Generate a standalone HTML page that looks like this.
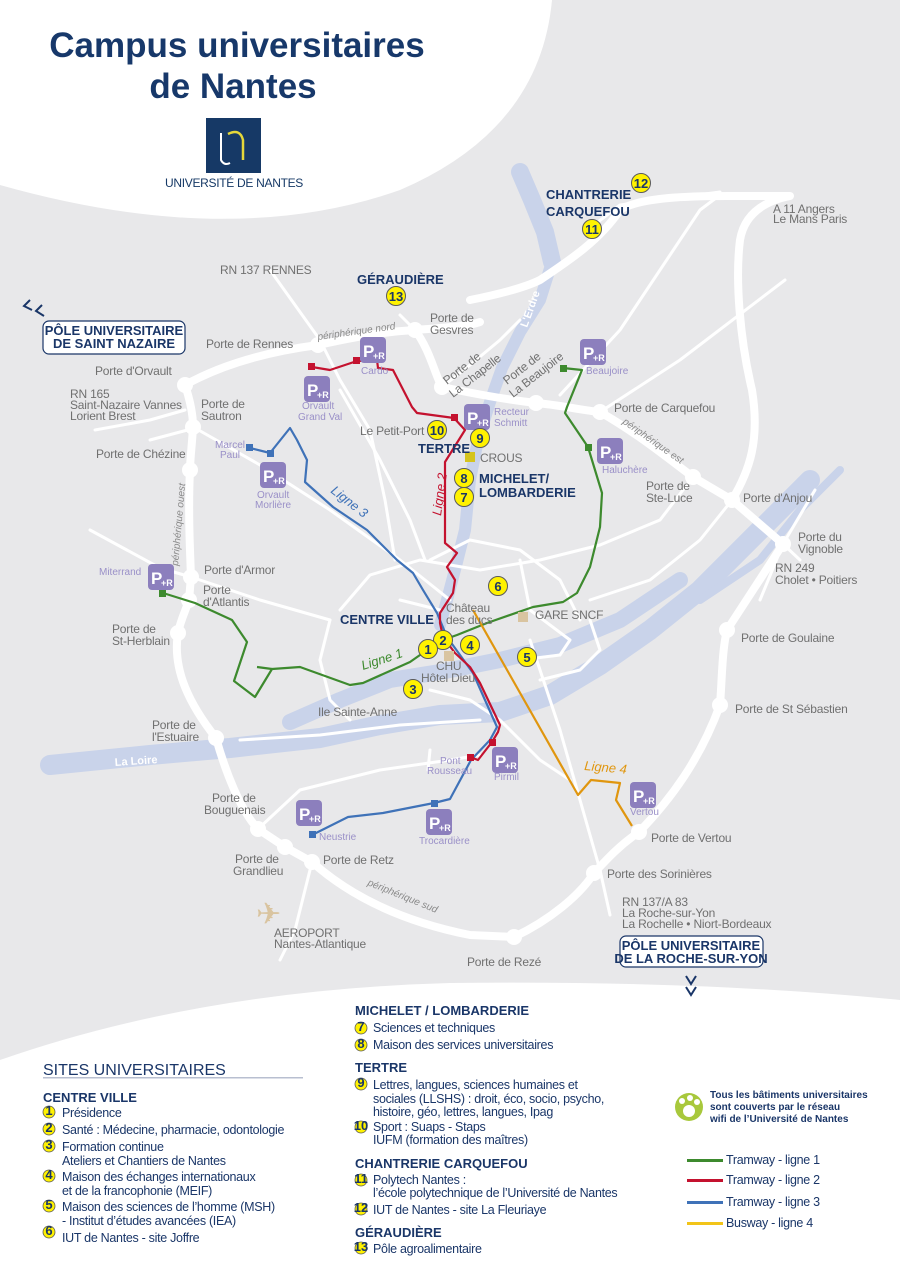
<!DOCTYPE html>
<html><head><meta charset="utf-8"><style>
html,body{margin:0;padding:0;background:#e8e8ea}
svg{display:block}
.t{font-family:"Liberation Sans Narrow","Liberation Sans",sans-serif;fill:#707070;font-size:12px;letter-spacing:-0.2px}
.p{font-family:"Liberation Sans",sans-serif;fill:#9a90c8;font-size:10px}
.h{font-family:"Liberation Sans",sans-serif;fill:#1a3668;font-weight:bold;font-size:13px}
.l{font-family:"Liberation Sans Narrow","Liberation Sans",sans-serif;fill:#1a3668;font-size:12.5px;letter-spacing:-0.3px}
.n{font-family:"Liberation Sans",sans-serif;fill:#1a3668;font-weight:bold;font-size:13px;text-anchor:middle}
.r{fill:none;stroke:#fff;stroke-linecap:round;stroke-linejoin:round}
</style></head><body>
<svg width="900" height="1273" viewBox="0 0 900 1273" xmlns="http://www.w3.org/2000/svg">
<defs>
<g id="pr"><rect x="0" y="0" width="26" height="26" rx="4" fill="#8c7fbd"/><text x="3" y="20" font-family="Liberation Sans,sans-serif" font-weight="bold" font-size="17" fill="#fff">P</text><text x="13" y="22" font-family="Liberation Sans,sans-serif" font-weight="bold" font-size="9" fill="#fff">+R</text></g>
</defs>
<rect width="900" height="1273" fill="#e8e8ea"/>
<g fill="none" stroke="#c9d3ea" stroke-linecap="round" stroke-linejoin="round">
<polyline stroke-width="20" points="50,765 150,755 230,748 320,738 380,725 440,715 500,712 550,695 600,665 650,630 700,590 760,530 810,480"/>
<polyline stroke-width="16" points="290,722 340,700 390,680 440,672 500,660 560,645 620,620 680,580"/>
<polyline stroke-width="18" points="520,172 532,200 545,232 552,262"/>
<polyline stroke-width="12" points="552,262 540,300 520,332 502,368 490,402 478,440 470,480 465,530 457,562 447,600 440,625"/>
<polyline stroke-width="8" points="700,600 760,560 800,510 840,470"/>
</g>
<g class="r" stroke-width="3">
<polyline points="270,270 320,340 340,380 370,430 385,500 395,560"/>
<polyline points="95,430 150,420 185,410"/>
<polyline points="150,440 195,428 260,465 330,510 400,560 450,600"/>
<polyline points="90,530 160,568 191,577 260,600 330,620"/>
<polyline points="340,390 380,460 410,520 425,560"/>
<polyline points="600,412 680,360 785,280"/>
<polyline points="594,225 620,205 690,196 720,192"/>
<polyline points="560,395 620,330 700,210 720,195"/>
<polyline points="693,477 660,520 600,545 540,560 480,570 420,560 370,575 340,610"/>
<polyline points="732,500 700,540 650,580 590,600"/>
<polyline points="330,620 320,660 330,700 350,720"/>
<polyline points="430,560 470,540 520,550 560,580 580,620"/>
<polyline points="400,600 440,610"/>
<polyline points="520,560 530,610 570,640 560,655 520,660"/>
<polyline points="590,620 600,650 580,670 540,680"/>
<polyline points="240,740 320,735 400,725 480,720"/>
<polyline points="258,829 300,790 380,770 450,760 480,755"/>
<polyline points="430,690 470,700 500,720 540,760 570,780"/>
<polyline points="530,640 560,730 600,870 610,915"/>
<polyline points="430,750 428,770"/>
<polyline points="312,862 295,930 280,960"/>
<polyline points="783,544 815,490"/>
<polyline points="783,544 800,560"/>
<polyline points="783,544 760,600"/>
<polyline points="442,387 470,365 500,340 520,320"/>
<polyline points="415,330 400,315"/>
</g>
<g class="r" stroke-width="8">
<path d="M185,385 C230,360 280,350 318,345 C350,338 380,332 415,330 C440,328 470,326 480,322"/>
<path d="M415,330 C430,350 435,375 442,387 C480,395 510,400 536,403 C560,405 580,410 600,412 C640,435 670,460 693,477 L732,500 L783,544"/>
<path d="M732,500 C750,470 760,440 752,390 C740,340 735,280 740,240 C745,210 770,200 790,196 L730,196 C690,196 640,197 620,210 C600,240 570,260 540,280 C520,290 480,298 470,300"/>
<path d="M185,385 C190,400 193,415 193,427 C192,445 190,460 190,470 C188,510 190,550 191,577 L189,600 C185,612 180,622 178,633 C172,670 190,705 216,738 C225,770 240,810 258,829 L285,847 L312,862 C360,905 420,925 470,935 L514,937 C550,920 580,895 594,873 C608,858 620,845 639,832 C670,800 700,760 720,705 C722,680 722,650 727,630 L783,544"/>
</g>
<g fill="#fff">
<circle cx="318" cy="345" r="8"/><circle cx="415" cy="330" r="8"/><circle cx="442" cy="387" r="8"/><circle cx="536" cy="403" r="8"/><circle cx="600" cy="412" r="8"/><circle cx="693" cy="477" r="8"/><circle cx="732" cy="500" r="8"/><circle cx="783" cy="544" r="8"/><circle cx="727" cy="630" r="8"/><circle cx="720" cy="705" r="8"/><circle cx="639" cy="832" r="8"/><circle cx="594" cy="873" r="8"/><circle cx="514" cy="937" r="8"/><circle cx="312" cy="862" r="8"/><circle cx="285" cy="847" r="8"/><circle cx="258" cy="829" r="8"/><circle cx="216" cy="738" r="8"/><circle cx="178" cy="633" r="8"/><circle cx="189" cy="600" r="8"/><circle cx="191" cy="577" r="8"/><circle cx="190" cy="470" r="8"/><circle cx="193" cy="427" r="8"/><circle cx="185" cy="385" r="8"/>
</g>
<path d="M0,0 L0,185 Q 230,250 400,190 Q 540,130 552,0 Z" fill="#fff"/>
<path d="M0,1060 Q 200,990 450,983 Q 700,980 900,1000 L900,1273 L0,1273 Z" fill="#fff"/>
<text x="237" y="57" text-anchor="middle" font-family="Liberation Sans,sans-serif" font-weight="bold" font-size="35" fill="#17386a">Campus universitaires</text>
<text x="233" y="98" text-anchor="middle" font-family="Liberation Sans,sans-serif" font-weight="bold" font-size="35" fill="#17386a">de Nantes</text>
<rect x="206" y="118" width="55" height="55" fill="#163966"/>
<path d="M221,133 L221,160 Q224,166 230,163" fill="none" stroke="#fff" stroke-width="2"/>
<path d="M228,134 Q240,128 243,140 L243,160" fill="none" stroke="#e5d83a" stroke-width="2.5"/>
<text x="234" y="187" text-anchor="middle" font-family="Liberation Sans Narrow,Liberation Sans,sans-serif" font-size="12" fill="#163966" letter-spacing="-0.3">UNIVERSITÉ DE NANTES</text>
<g fill="none" stroke-width="2.2" stroke-linejoin="round">
<polyline stroke="#3d8a2e" points="163,593 195,603 232,620 247,642 234,681 255,697 272,669 300,667 350,685 363,683 410,662 420,655 443,640 457,635 487,623 533,607 563,602 577,593 590,567 600,527 602,493 588,447 565,413 567,407 582,370 563,368"/>
<polyline stroke="#3d8a2e" points="257,667 272,669"/>
<polyline stroke="#3f72b8" points="250,448 270,453 290,428 297,440 307,460 305,482 333,507 367,530 380,543 397,560 413,573 423,590 437,613 447,637 473,673 497,727 490,740 471,760 450,799 434,803 383,813 348,817 312,835"/>
<polyline stroke="#c4122f" points="312,367 330,370 357,361 377,360 378,368 393,370 412,407 417,413 454,418 465,430 445,462 445,543 457,553 447,567 455,580 453,593 440,613 440,623 443,637 455,653 470,667 480,683 500,725 498,732 492,742 478,760 470,757"/>
<polyline stroke="#e0960f" points="473,610 578,795 591,780 620,783 616,800 632,826"/>
</g>
<g><rect x="308" y="363" width="7" height="7" fill="#c4122f"/><rect x="353" y="357" width="7" height="7" fill="#c4122f"/><rect x="451" y="414" width="7" height="7" fill="#c4122f"/><rect x="489" y="739" width="7" height="7" fill="#c4122f"/><rect x="467" y="754" width="7" height="7" fill="#c4122f"/>
<rect x="246" y="444" width="7" height="7" fill="#3f72b8"/><rect x="267" y="450" width="7" height="7" fill="#3f72b8"/><rect x="431" y="800" width="7" height="7" fill="#3f72b8"/><rect x="309" y="831" width="7" height="7" fill="#3f72b8"/>
<rect x="159" y="590" width="7" height="7" fill="#3d8a2e"/><rect x="560" y="365" width="7" height="7" fill="#3d8a2e"/><rect x="585" y="444" width="7" height="7" fill="#3d8a2e"/></g>
<use href="#pr" x="360" y="337"/><use href="#pr" x="304" y="376"/><use href="#pr" x="464" y="404"/><use href="#pr" x="580" y="339"/><use href="#pr" x="597" y="438"/><use href="#pr" x="260" y="462"/><use href="#pr" x="148" y="564"/><use href="#pr" x="492" y="747"/><use href="#pr" x="630" y="782"/><use href="#pr" x="296" y="800"/><use href="#pr" x="426" y="809"/>
<text class="p" x="361" y="374">Cardo</text>
<text class="p" x="302" y="409">Orvault</text><text class="p" x="298" y="420">Grand Val</text>
<text class="p" x="494" y="415">Recteur</text><text class="p" x="494" y="426">Schmitt</text>
<text class="p" x="586" y="374">Beaujoire</text>
<text class="p" x="602" y="473">Haluchère</text>
<text class="p" x="215" y="448">Marcel</text><text class="p" x="220" y="458">Paul</text>
<text class="p" x="257" y="498">Orvault</text><text class="p" x="255" y="508">Morlière</text>
<text class="p" x="99" y="575">Miterrand</text>
<text class="p" x="440" y="764">Pont</text><text class="p" x="427" y="774">Rousseau</text>
<text class="p" x="494" y="780">Pirmil</text>
<text class="p" x="630" y="815">Vertou</text>
<text class="p" x="319" y="840">Neustrie</text>
<text class="p" x="419" y="844">Trocardière</text>
<g class="t">
<text x="220" y="274">RN 137 RENNES</text>
<text x="206" y="348">Porte de Rennes</text>
<text x="95" y="375">Porte d'Orvault</text>
<text x="70" y="398">RN 165</text><text x="70" y="409">Saint-Nazaire Vannes</text><text x="70" y="420">Lorient Brest</text>
<text x="201" y="408">Porte de</text><text x="201" y="420">Sautron</text>
<text x="96" y="458">Porte de Chézine</text>
<text x="204" y="574">Porte d'Armor</text>
<text x="203" y="594">Porte</text><text x="203" y="606">d'Atlantis</text>
<text x="112" y="633">Porte de</text><text x="112" y="645">St-Herblain</text>
<text x="152" y="729">Porte de</text><text x="152" y="741">l'Estuaire</text>
<text x="212" y="802">Porte de</text><text x="204" y="814">Bouguenais</text>
<text x="235" y="863">Porte de</text><text x="233" y="875">Grandlieu</text>
<text x="323" y="864">Porte de Retz</text>
<text x="274" y="937">AEROPORT</text><text x="274" y="948">Nantes-Atlantique</text>
<text x="467" y="966">Porte de Rezé</text>
<text x="607" y="878">Porte des Sorinières</text>
<text x="622" y="906">RN 137/A 83</text><text x="622" y="917">La Roche-sur-Yon</text><text x="622" y="928">La Rochelle • Niort-Bordeaux</text>
<text x="651" y="842">Porte de Vertou</text>
<text x="735" y="713">Porte de St Sébastien</text>
<text x="741" y="642">Porte de Goulaine</text>
<text x="775" y="572">RN 249</text><text x="775" y="584">Cholet • Poitiers</text>
<text x="798" y="541">Porte du</text><text x="798" y="553">Vignoble</text>
<text x="743" y="502">Porte d'Anjou</text>
<text x="646" y="490">Porte de</text><text x="646" y="502">Ste-Luce</text>
<text x="614" y="412">Porte de Carquefou</text>
<text x="773" y="213">A 11 Angers</text><text x="773" y="223">Le Mans Paris</text>
<text x="430" y="322">Porte de</text><text x="430" y="334">Gesvres</text>
<text x="360" y="435">Le Petit-Port</text>
<text x="480" y="462">CROUS</text>
<text x="535" y="619">GARE SNCF</text>
<text x="446" y="612">Château</text><text x="446" y="624">des ducs</text>
<text x="436" y="670">CHU</text><text x="421" y="682">Hôtel Dieu</text>
<text x="318" y="716">Ile Sainte-Anne</text>
<text x="0" y="0" transform="translate(447,385) rotate(-38)">Porte de</text><text x="0" y="0" transform="translate(453,398) rotate(-38)">La Chapelle</text>
<text x="0" y="0" transform="translate(507,385) rotate(-38)">Porte de</text><text x="0" y="0" transform="translate(513,398) rotate(-38)">La Beaujoire</text>
</g>
<g font-family="Liberation Sans,sans-serif" font-style="italic" font-size="10" fill="#8a8a8a">
<text transform="translate(318,340) rotate(-8)">périphérique nord</text>
<text transform="translate(622,423) rotate(35)">périphérique est</text>
<text transform="translate(178,566) rotate(-85)">périphérique ouest</text>
<text transform="translate(367,885) rotate(22)">périphérique sud</text>
</g>
<text transform="translate(527,328) rotate(-70)" font-family="Liberation Sans,sans-serif" font-size="11" fill="#fff" font-weight="bold">L'Erdre</text>
<text x="115" y="766" font-family="Liberation Sans,sans-serif" font-size="11" fill="#fff" font-weight="bold" transform="rotate(-4 115 766)">La Loire</text>
<g font-family="Liberation Sans,sans-serif" font-style="italic" font-size="13">
<text fill="#3d8a2e" transform="translate(363,670) rotate(-18)">Ligne 1</text>
<text fill="#c4122f" transform="translate(441,516) rotate(-82)">Ligne 2</text>
<text fill="#3f72b8" transform="translate(330,492) rotate(38)">Ligne 3</text>
<text fill="#e0960f" transform="translate(584,770) rotate(5)">Ligne 4</text>
</g>
<rect x="465" y="452" width="10" height="10" fill="#d5c41e"/>
<rect x="518" y="612" width="10" height="10" fill="#d9c4a0"/>
<rect x="444" y="651" width="10" height="10" fill="#d9c4a0"/>
<text x="256" y="924" font-size="30" fill="#d9c4a0" font-family="DejaVu Sans,sans-serif">✈</text>
<g class="h">
<text x="546" y="199">CHANTRERIE</text><text x="546" y="216">CARQUEFOU</text>
<text x="357" y="284">GÉRAUDIÈRE</text>
<text x="418" y="453">TERTRE</text>
<text x="479" y="483">MICHELET/</text><text x="479" y="497">LOMBARDERIE</text>
<text x="340" y="624">CENTRE VILLE</text>
</g>
<g fill="#fff200" stroke="#5a5a5a" stroke-width="1">
<circle cx="641" cy="183" r="9.5"/><circle cx="592" cy="229" r="9.5"/><circle cx="396" cy="296" r="9.5"/><circle cx="437" cy="430" r="9.5"/><circle cx="480" cy="438" r="9.5"/><circle cx="464" cy="478" r="9.5"/><circle cx="464" cy="497" r="9.5"/><circle cx="498" cy="586" r="9.5"/><circle cx="470" cy="645" r="9.5"/><circle cx="443" cy="640" r="9.5"/><circle cx="428" cy="649" r="9.5"/><circle cx="527" cy="657" r="9.5"/><circle cx="413" cy="689" r="9.5"/>
</g>
<g class="n">
<text x="641" y="188">12</text><text x="592" y="234">11</text><text x="396" y="301">13</text><text x="437" y="435">10</text><text x="480" y="443">9</text><text x="464" y="483">8</text><text x="464" y="502">7</text><text x="498" y="591">6</text><text x="470" y="650">4</text><text x="443" y="645">2</text><text x="428" y="654">1</text><text x="527" y="662">5</text><text x="413" y="694">3</text>
</g>
<rect x="43" y="321" width="142" height="33" rx="6" fill="#fff" stroke="#1a3668" stroke-width="1.2"/>
<text x="114" y="335" class="n" font-size="11">PÔLE UNIVERSITAIRE</text><text x="114" y="348" class="n" font-size="11">DE SAINT NAZAIRE</text>
<path d="M30,300 L24,306 L32,310 M42,305 L36,311 L44,316" fill="none" stroke="#1a3668" stroke-width="2"/>
<rect x="620" y="936" width="143" height="31" rx="6" fill="#fff" stroke="#1a3668" stroke-width="1.2"/>
<text x="691" y="950" class="n" font-size="11">PÔLE UNIVERSITAIRE</text><text x="691" y="963" class="n" font-size="11">DE LA ROCHE-SUR-YON</text>
<path d="M686,976 L691,984 L696,976 M686,987 L691,995 L696,987" fill="none" stroke="#1a3668" stroke-width="2"/>
<text x="43" y="1075" font-family="Liberation Sans,sans-serif" font-size="16" fill="#1a3668">SITES UNIVERSITAIRES</text>
<rect x="43" y="1077" width="260" height="1.5" fill="#b8bfd0"/>
<g class="h"><text x="43" y="1102">CENTRE VILLE</text>
<text x="355" y="1015">MICHELET / LOMBARDERIE</text>
<text x="355" y="1072">TERTRE</text>
<text x="355" y="1168">CHANTRERIE CARQUEFOU</text>
<text x="355" y="1237">GÉRAUDIÈRE</text></g>
<g fill="#fff200" stroke="#5a5a5a" stroke-width="0.8">
<circle cx="49" cy="1112" r="6"/><circle cx="49" cy="1129" r="6"/><circle cx="49" cy="1146" r="6"/><circle cx="49" cy="1176" r="6"/><circle cx="49" cy="1206" r="6"/><circle cx="49" cy="1232" r="6"/>
<circle cx="361" cy="1028" r="6"/><circle cx="361" cy="1045" r="6"/><circle cx="361" cy="1084" r="6"/><circle cx="361" cy="1127" r="6"/><circle cx="361" cy="1180" r="6"/><circle cx="361" cy="1209" r="6"/><circle cx="361" cy="1248" r="6"/>
</g>
<g class="n" font-size="8">
<text x="49" y="1115">1</text><text x="49" y="1132">2</text><text x="49" y="1149">3</text><text x="49" y="1179">4</text><text x="49" y="1209">5</text><text x="49" y="1235">6</text>
<text x="361" y="1031">7</text><text x="361" y="1048">8</text><text x="361" y="1087">9</text><text x="361" y="1130">10</text><text x="361" y="1183">11</text><text x="361" y="1212">12</text><text x="361" y="1251">13</text>
</g>
<g class="l">
<text x="62" y="1117">Présidence</text>
<text x="62" y="1134">Santé : Médecine, pharmacie, odontologie</text>
<text x="62" y="1151">Formation continue</text><text x="62" y="1165">Ateliers et Chantiers de Nantes</text>
<text x="62" y="1181">Maison des échanges internationaux</text><text x="62" y="1195">et de la francophonie (MEIF)</text>
<text x="62" y="1211">Maison des sciences de l’homme (MSH)</text><text x="62" y="1225">- Institut d’études avancées (IEA)</text>
<text x="62" y="1242">IUT de Nantes - site Joffre</text>
<text x="373" y="1032">Sciences et techniques</text>
<text x="373" y="1049">Maison des services universitaires</text>
<text x="373" y="1089">Lettres, langues, sciences humaines et</text><text x="373" y="1103">sociales (LLSHS) : droit, éco, socio, psycho,</text><text x="373" y="1116">histoire, géo, lettres, langues, Ipag</text>
<text x="373" y="1131">Sport : Suaps - Staps</text><text x="373" y="1144">IUFM (formation des maîtres)</text>
<text x="373" y="1184">Polytech Nantes :</text><text x="373" y="1197">l’école polytechnique de l’Université de Nantes</text>
<text x="373" y="1214">IUT de Nantes - site La Fleuriaye</text>
<text x="373" y="1253">Pôle agroalimentaire</text>
<text x="726" y="1164">Tramway - ligne 1</text>
<text x="726" y="1184">Tramway - ligne 2</text>
<text x="726" y="1206">Tramway - ligne 3</text>
<text x="726" y="1227">Busway - ligne 4</text>
</g>
<rect x="687" y="1159" width="36" height="3" fill="#3d8a2e"/>
<rect x="687" y="1179" width="36" height="3" fill="#c4122f"/>
<rect x="687" y="1201" width="36" height="3" fill="#3f72b8"/>
<rect x="687" y="1222" width="36" height="3" fill="#f2c418"/>
<circle cx="689" cy="1107" r="14" fill="#a8c83c"/>
<circle cx="689" cy="1111" r="6" fill="#fff"/><circle cx="682" cy="1101" r="3" fill="#fff"/><circle cx="690" cy="1098" r="3" fill="#fff"/><circle cx="697" cy="1102" r="3" fill="#fff"/>
<g font-family="Liberation Sans,sans-serif" font-weight="bold" font-size="10" fill="#1a3668">
<text x="710" y="1098">Tous les bâtiments universitaires</text>
<text x="710" y="1110">sont couverts par le réseau</text>
<text x="710" y="1122">wifi de l’Université de Nantes</text>
</g>
</svg>
</body></html>
